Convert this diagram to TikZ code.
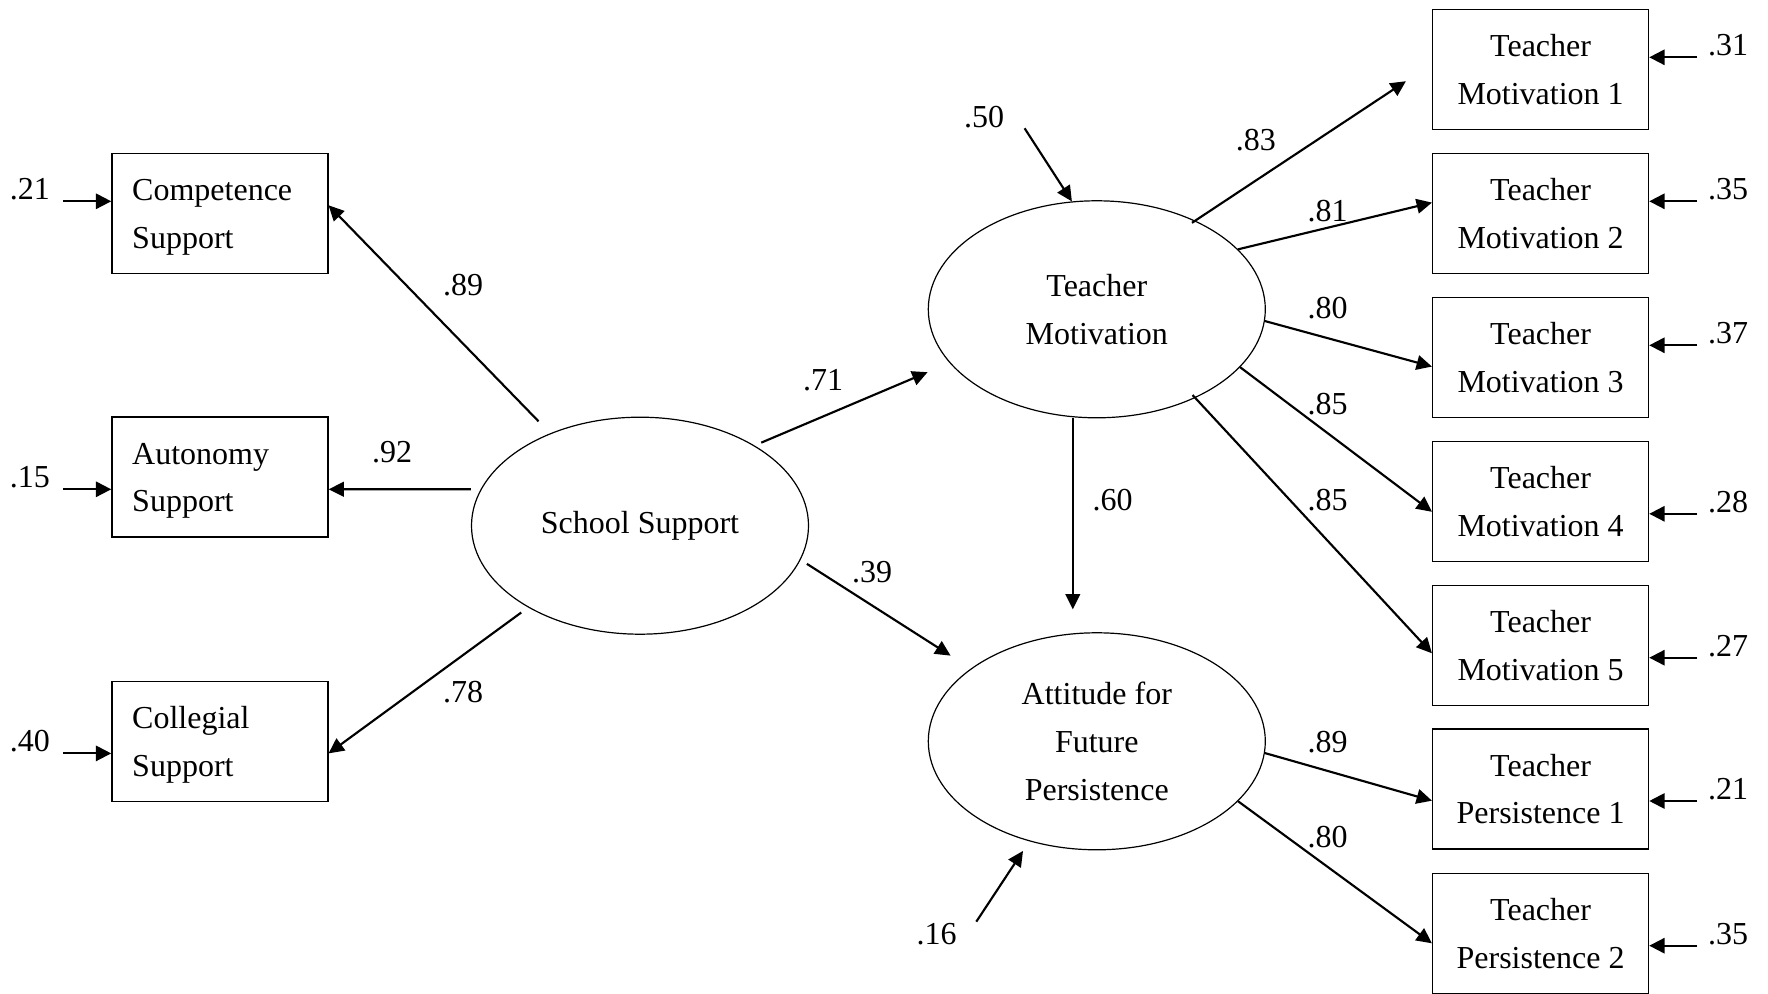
\documentclass[tikz,border=0pt]{standalone}
\usepackage{fontspec}
\setmainfont{Liberation Serif}
\usetikzlibrary{arrows.meta,shapes.geometric,calc}

\begin{document}
\begin{tikzpicture}[x=0.75pt,y=0.75pt,yscale=-1,xscale=1,
  every node/.style={font=\fontsize{24}{35.8}\selectfont},
  obsbox/.style={draw, line width=1pt, minimum width=162pt, minimum height=90pt, inner sep=0pt, align=center},
  leftbox/.style={obsbox, text width=131.5pt, inner xsep=15.25pt, align=left, execute at begin node={\rule{0pt}{21.5pt}}},
  latent/.style={draw, ellipse, line width=0.9pt, minimum width=252.75pt, minimum height=162.75pt, inner sep=0pt, align=center},
  load/.style={-{Triangle[length=11.5pt,width=11pt]}, line width=1.6pt},
  errarrow/.style={-{Triangle[length=11.5pt,width=11.5pt]}, line width=1.5pt},
  coef/.style={inner sep=0pt}]
\useasboundingbox (0,0) rectangle (1768,994);

%Shape: Rectangle (school support indicators)
\node[leftbox] (cs) at (219.9,213.3) {Competence\\Support};
\node[leftbox] (as) at (219.9,477) {Autonomy\\Support};
\node[leftbox] (cl) at (219.9,741.4) {Collegial\\Support};

%Shape: Ellipse (latent variables)
\node[latent] (ss) at (640,525.7) {School Support};
\node[latent] (tm) at (1096.8,309.3) {Teacher\\Motivation};
\node[latent] (at) at (1096.8,741.3) {Attitude for\\Future\\Persistence};

%Shape: Rectangle (teacher indicators)
\node[obsbox] (tm1) at (1540.6,69.3) {Teacher\\Motivation 1};
\node[obsbox] (tm2) at (1540.6,213.3) {Teacher\\Motivation 2};
\node[obsbox] (tm3) at (1540.6,357.3) {Teacher\\Motivation 3};
\node[obsbox] (tm4) at (1540.6,501.8) {Teacher\\Motivation 4};
\node[obsbox] (tm5) at (1540.6,645.7) {Teacher\\Motivation 5};
\node[obsbox] (tp1) at (1540.6,789) {Teacher\\Persistence 1};
\node[obsbox] (tp2) at (1540.6,933.7) {Teacher\\Persistence 2};

%Straight Lines (paths)
\draw[load, shorten <=12.5pt] (ss) -- ($(cs.east)+(0,-8)$);
\draw[load] ($(ss.west)+(0,-36.4)$) -- ($(as.east)+(0,12.3)$);
\draw[load, shorten <=6.4pt] (ss) -- ($(cl.east)+(0,12)$);
\draw[load, shorten <=5.4pt, shorten >=17.9pt] (ss.35) -- (tm.200);
\draw[load, shorten <=5.6pt, shorten >=18pt] (ss.348) -- (at.150);
\draw[load, shorten >=17.1pt] ($(tm.south)+(-24,0)$) -- ($(at.north)+(-24,0)$);
\draw[load, shorten <=-3pt, shorten >=23.4pt] (tm.42) -- ($(tm1.west)+(0,-5.3)$);
\draw[load] (tm.23) -- ($(tm2.west)+(0,-10.7)$);
\draw[load] (tm.356) -- ($(tm3.west)+(0,9.3)$);
\draw[load] (tm.338) -- ($(tm4.west)+(0,10)$);
\draw[load, shorten <=-3pt] (tm.318) -- ($(tm5.west)+(0,7.6)$);
\draw[load] (at.356) -- ($(tp1.west)+(0,11.7)$);
\draw[load] (at.337) -- ($(tp2.west)+(0,9.6)$);

%Straight Lines (error terms)
\coordinate (e-cs) at (63.1,201.3);
\coordinate (e-as) at (63.1,489.3);
\coordinate (e-cl) at (63.1,753.4);
\coordinate (e-tm1) at (1697.3,57.3);
\coordinate (e-tm2) at (1697.3,201.3);
\coordinate (e-tm3) at (1697.3,345.3);
\coordinate (e-tm4) at (1697.3,513.8);
\coordinate (e-tm5) at (1697.3,657.7);
\coordinate (e-tp1) at (1697.3,801);
\coordinate (e-tp2) at (1697.3,945.7);
\coordinate (e-tm) at (1024.6,128.3);
\coordinate (e-at) at (976.3,921.7);
\draw[errarrow] (e-cs) -- ($(cs.west)+(0,-12)$);
\draw[errarrow] (e-as) -- ($(as.west)+(0,12.3)$);
\draw[errarrow] (e-cl) -- ($(cl.west)+(0,12)$);
\draw[errarrow] (e-tm1) -- ($(tm1.east)+(0,-12)$);
\draw[errarrow] (e-tm2) -- ($(tm2.east)+(0,-12)$);
\draw[errarrow] (e-tm3) -- ($(tm3.east)+(0,-12)$);
\draw[errarrow] (e-tm4) -- ($(tm4.east)+(0,12)$);
\draw[errarrow] (e-tm5) -- ($(tm5.east)+(0,12)$);
\draw[errarrow] (e-tp1) -- ($(tp1.east)+(0,12)$);
\draw[errarrow] (e-tp2) -- ($(tp2.east)+(0,12)$);
\draw[load] (e-tm) -- (tm.103);
\draw[load, shorten >=8.6pt] (e-at) -- (at.236);

%Text Node (coefficients)
\node[coef] (c-cs) at (463.2,285) {.89};
\node[coef] (c-as) at (392,452.5) {.92};
\node[coef] (c-cl) at (463.2,692.4) {.78};
\node[coef] (c-tm) at (823,380) {.71};
\node[coef] (c-at) at (872,571.7) {.39};
\node[coef] (c-ta) at (1112.5,500) {.60};
\node[coef] (c-tm1) at (1255.8,140) {.83};
\node[coef] (c-tm2) at (1327.5,211) {.81};
\node[coef] (c-tm3) at (1327.5,308) {.80};
\node[coef] (c-tm4) at (1327.5,404) {.85};
\node[coef] (c-tm5) at (1327.5,500) {.85};
\node[coef] (c-tp1) at (1327.5,742.5) {.89};
\node[coef] (c-tp2) at (1327.5,836.7) {.80};

%Text Node (error variances)
\node[coef] (v-cs) at (30,189.3) {.21};
\node[coef] (v-as) at (30,477.3) {.15};
\node[coef] (v-cl) at (30,741.4) {.40};
\node[coef] (v-tm1) at (1728,45.3) {.31};
\node[coef] (v-tm2) at (1728,189.3) {.35};
\node[coef] (v-tm3) at (1728,333.3) {.37};
\node[coef] (v-tm4) at (1728,501.8) {.28};
\node[coef] (v-tm5) at (1728,645.7) {.27};
\node[coef] (v-tp1) at (1728,789) {.21};
\node[coef] (v-tp2) at (1728,933.7) {.35};
\node[coef] (v-tm) at (984,116.7) {.50};
\node[coef] (v-at) at (936.6,934) {.16};

\end{tikzpicture}
\end{document}
